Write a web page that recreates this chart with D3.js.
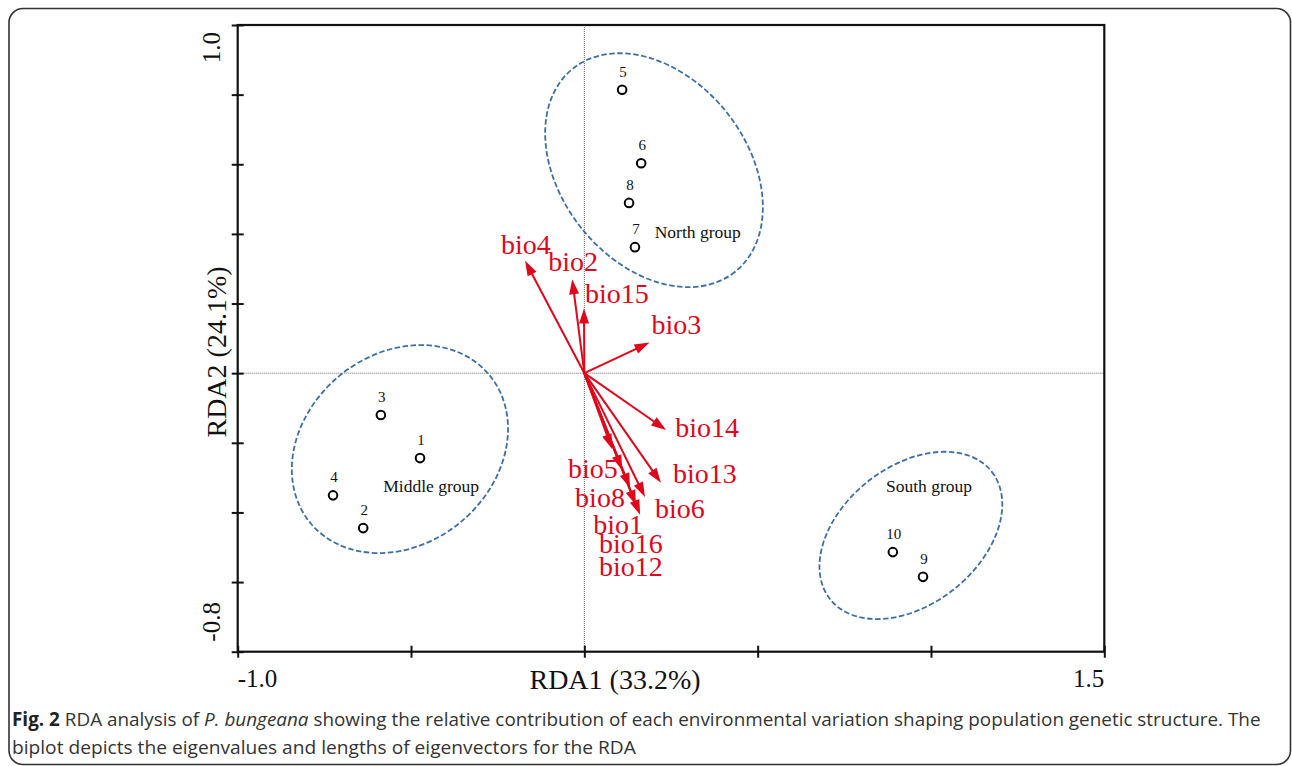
<!DOCTYPE html>
<html><head><meta charset="utf-8">
<script src="https://cdn.jsdelivr.net/npm/d3@7"></script>
<style>body{margin:0;background:#fff}svg{display:block}</style>
</head><body><svg id="c" width="1292" height="766"></svg>
<script>
// ---------- data ----------
const xDomain = [-1.0, 1.5];
const yDomain = [-0.8, 1.0];
const xTicks = [-1.0, -0.5, 0, 0.5, 1.0, 1.5];
const yTicks = [-0.8, -0.6, -0.4, -0.2, 0, 0.2, 0.4, 0.6, 0.8, 1.0];
const xTickLabels = ["-1.0", "1.5"];   // only the domain ends are labelled
const yTickLabels = ["-0.8", "1.0"];
const xTitle = "RDA1 (33.2%)";
const yTitle = "RDA2 (24.1%)";

const sites = ["1", "2", "3", "4", "5", "6", "7", "8", "9", "10"];
const siteX = [-0.474, -0.638, -0.587, -0.725, 0.109, 0.164, 0.146, 0.129, 0.977, 0.890];
const siteY = [-0.244, -0.445, -0.120, -0.351, 0.814, 0.603, 0.362, 0.489, -0.585, -0.514];

const envVars = ["bio4", "bio2", "bio15", "bio3", "bio14", "bio13", "bio6", "bio5", "bio8", "bio1", "bio16", "bio12"];
const envX = [-0.171, -0.035, -0.001, 0.188, 0.236, 0.221, 0.175, 0.080, 0.109, 0.161, 0.149, 0.132];
const envY = [0.323, 0.270, 0.186, 0.088, -0.163, -0.315, -0.356, -0.218, -0.278, -0.407, -0.379, -0.330];

const groupNames = ["North group", "Middle group", "South group"];
const groupCX = [0.201, -0.532, 0.942];
const groupCY = [0.583, -0.218, -0.466];
const groupRA = [0.375, 0.335, 0.297];
const groupRB = [0.268, 0.274, 0.199];
const groupAngle = [51.4, -39.4, -38.3];
const groupLabelX = [0.203, -0.580, 0.870];
const groupLabelY = [0.388, -0.340, -0.340];

const captionBold = "Fig. 2";
const captionA = " RDA analysis of ";
const captionItalic = "P. bungeana";
const captionB = " showing the relative contribution of each environmental variation shaping population genetic structure. The";
const captionLine2 = "biplot depicts the eigenvalues and lengths of eigenvectors for the RDA";

// ---------- layout / style ----------
const L = 237.7, R = 1104.3, T = 25, B = 651.7;
const RED = "#e0071b";
const BLUE = "#3d6fa6";
const SERIF = "'Liberation Serif','Times New Roman',serif";
// label offsets (pixels) from the arrow tips
const labelOffset = {
  bio4: [-24, -7], bio2: [-24, -8], bio15: [1, -5], bio3: [2, -9],
  bio14: [9, 7], bio13: [12, 0], bio6: [10, 21], bio5: [-44, 29],
  bio8: [-47, 37], bio1: [-47, 19], bio16: [-37, 48], bio12: [-31, 88]
};

const svg = d3.select("#c");
const x = d3.scaleLinear().domain(xDomain).range([L, R]);
const y = d3.scaleLinear().domain(yDomain).range([B, T]);

// outer rounded frame
svg.append("rect").attr("x", 9).attr("y", 8.5).attr("width", 1281.5).attr("height", 756)
  .attr("rx", 14).attr("fill", "none").attr("stroke", "#333").attr("stroke-width", 1.6);

// dotted zero lines
svg.append("line").attr("x1", x(0)).attr("x2", x(0)).attr("y1", T).attr("y2", B)
  .attr("stroke", "#666").attr("stroke-width", 1).attr("stroke-dasharray", "1,1");
svg.append("line").attr("x1", L).attr("x2", R).attr("y1", y(0)).attr("y2", y(0))
  .attr("stroke", "#666").attr("stroke-width", 1).attr("stroke-dasharray", "1,1");

// plot box
svg.append("rect").attr("x", L).attr("y", T).attr("width", R - L).attr("height", B - T)
  .attr("fill", "none").attr("stroke", "#111").attr("stroke-width", 2.2);

// axes (crossing ticks)
const gx = svg.append("g").attr("transform", `translate(0,${B})`)
  .call(d3.axisBottom(x).tickValues(xTicks).tickSize(6).tickFormat(""));
gx.select(".domain").remove();
gx.selectAll(".tick line").attr("y1", -6).attr("y2", 6).attr("stroke", "#111").attr("stroke-width", 2);
const gy = svg.append("g").attr("transform", `translate(${L},0)`)
  .call(d3.axisLeft(y).tickValues(yTicks).tickSize(6).tickFormat(""));
gy.select(".domain").remove();
gy.selectAll(".tick line").attr("x1", -6).attr("x2", 6).attr("stroke", "#111").attr("stroke-width", 2);

// tick labels
svg.append("text").text(xTickLabels[0]).attr("x", x(xDomain[0])).attr("y", 687)
  .attr("font-family", SERIF).attr("font-size", 25).attr("fill", "#111");
svg.append("text").text(xTickLabels[1]).attr("x", x(xDomain[1])).attr("y", 687)
  .attr("text-anchor", "end").attr("font-family", SERIF).attr("font-size", 25).attr("fill", "#111");
svg.append("text").text(yTickLabels[0])
  .attr("transform", `translate(220,${y(yDomain[0]) - 10}) rotate(-90)`)
  .attr("font-family", SERIF).attr("font-size", 25).attr("fill", "#111");
svg.append("text").text(yTickLabels[1])
  .attr("transform", `translate(220,${y(yDomain[1]) + 7}) rotate(-90)`)
  .attr("text-anchor", "end").attr("font-family", SERIF).attr("font-size", 25).attr("fill", "#111");

// axis titles
svg.append("text").text(xTitle).attr("x", 615).attr("y", 689).attr("text-anchor", "middle")
  .attr("font-family", SERIF).attr("font-size", 28).attr("fill", "#111");
svg.append("text").text(yTitle).attr("transform", `translate(226,352) rotate(-90)`)
  .attr("text-anchor", "middle").attr("font-family", SERIF).attr("font-size", 28).attr("fill", "#111");

// group ellipses
const kx = x(1) - x(0);
groupNames.forEach((g, i) => {
  const cx = x(groupCX[i]), cy = y(groupCY[i]);
  svg.append("ellipse").attr("cx", cx).attr("cy", cy)
    .attr("rx", groupRA[i] * kx).attr("ry", groupRB[i] * kx)
    .attr("transform", `rotate(${groupAngle[i]},${cx},${cy})`)
    .attr("fill", "none").attr("stroke", BLUE).attr("stroke-width", 1.8)
    .attr("stroke-dasharray", "5.5,2.5");
  svg.append("text").text(g).attr("x", x(groupLabelX[i])).attr("y", y(groupLabelY[i]))
    .attr("font-family", SERIF).attr("font-size", 17.5).attr("fill", "#111");
});

// site points
sites.forEach((s, i) => {
  const px = x(siteX[i]), py = y(siteY[i]);
  svg.append("circle").attr("cx", px).attr("cy", py).attr("r", 4.3)
    .attr("fill", "#fff").attr("stroke", "#000").attr("stroke-width", 2);
  svg.append("text").text(s).attr("x", px + 1).attr("y", py - 13).attr("text-anchor", "middle")
    .attr("font-family", SERIF).attr("font-size", 15).attr("fill", "#111");
});

// environmental arrows
const ox = x(0), oy = y(0);
const HL = 15, HW = 10;
envVars.forEach((v, i) => {
  const tx = x(envX[i]), ty = y(envY[i]);
  const dx = tx - ox, dy = ty - oy, len = Math.hypot(dx, dy);
  const ux = dx / len, uy = dy / len, nx = -uy, ny = ux;
  const bx = tx - HL * ux, by = ty - HL * uy;
  svg.append("line").attr("x1", ox).attr("y1", oy).attr("x2", bx + 2 * ux).attr("y2", by + 2 * uy)
    .attr("stroke", RED).attr("stroke-width", 2);
  svg.append("polygon")
    .attr("points", `${tx},${ty} ${bx + nx * HW / 2},${by + ny * HW / 2} ${bx - nx * HW / 2},${by - ny * HW / 2}`)
    .attr("fill", RED);
  const off = labelOffset[v];
  svg.append("text").text(v).attr("x", tx + off[0]).attr("y", ty + off[1])
    .attr("font-family", SERIF).attr("font-size", 28).attr("fill", RED);
});

// caption
const cap1 = svg.append("text").attr("y", 726).attr("font-family", "'Open Sans',sans-serif")
  .attr("font-size", 19).attr("fill", "#333");
cap1.append("tspan").text(captionBold).attr("font-weight", "bold").attr("fill", "#222");
cap1.append("tspan").text(captionA);
cap1.append("tspan").text(captionItalic).attr("font-style", "italic");
cap1.append("tspan").text(captionB);
const cap2 = svg.append("text").attr("y", 754).attr("font-family", "'Open Sans',sans-serif")
  .attr("font-size", 19).attr("fill", "#333").text(captionLine2);
function fit(sel, x0, x1) {
  const w = sel.node().getComputedTextLength();
  sel.attr("transform", `translate(${x0},0) scale(${(x1 - x0) / w},1)`);
}
fit(cap1, 12, 1261);
fit(cap2, 12, 636);
</script></body></html>
